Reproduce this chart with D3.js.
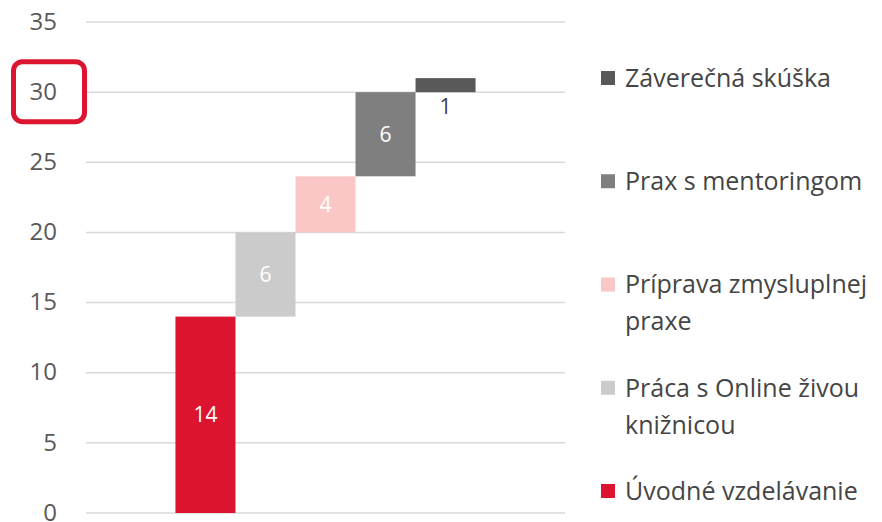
<!DOCTYPE html>
<html>
<head>
<meta charset="utf-8">
<script src="https://cdn.jsdelivr.net/npm/d3@7"></script>
<style>
  body { margin: 0; background: #fff; }
  text { font-family: "Open Sans", sans-serif; }
</style>
</head>
<body>
<div id="chart-area"></div>
<script>
// data
var categories = ["Úvodné vzdelávanie", "Práca s Online živou knižnicou", "Príprava zmysluplnej praxe", "Prax s mentoringom", "Záverečná skúška"];
var hours = [14, 6, 4, 6, 1];
var colors = ["#dc1430", "#cbcbcb", "#fbc6c6", "#7f7f7f", "#595959"];
var legendLines = [["Úvodné vzdelávanie"], ["Práca s Online živou", "knižnicou"], ["Príprava zmysluplnej", "praxe"], ["Prax s mentoringom"], ["Záverečná skúška"]];
var yTicks = [0, 5, 10, 15, 20, 25, 30, 35];

var width = 882;
var height = 522;

var svg = d3.select("#chart-area")
    .append("svg")
    .attr("width", width)
    .attr("height", height);

// stacking: each bar starts where the previous one ended
var starts = [0].concat(Array.from(d3.cumsum(hours)).slice(0, -1));
var data = categories.map(function (c, i) {
    return { name: c, value: hours[i], start: starts[i], color: colors[i], lines: legendLines[i] };
});

// SCALES
var x = d3.scaleBand()
    .domain(categories)
    .range([86, 565])
    .paddingInner(0)
    .paddingOuter(1.49);

var y = d3.scaleLinear()
    .domain([0, 35])
    .range([513, 22]);

// gridlines
svg.append("g").selectAll("line")
    .data(yTicks)
    .enter()
    .append("line")
    .attr("x1", 86)
    .attr("x2", 565)
    .attr("y1", function (d) { return y(d); })
    .attr("y2", function (d) { return y(d); })
    .attr("stroke", "#d9d9d9")
    .attr("stroke-width", 1.5);

// y axis labels
var yAxis = d3.axisLeft(y).tickValues(yTicks).tickSize(0).tickPadding(0);
var yAxisGroup = svg.append("g")
    .attr("transform", "translate(57, 0)")
    .call(yAxis);
yAxisGroup.select(".domain").remove();
yAxisGroup.selectAll("text")
    .attr("dy", "0.3em")
    .attr("font-size", "24px")
    .attr("font-family", "Open Sans, sans-serif")
    .attr("fill", "#595959");

// highlight box around 30
svg.append("rect")
    .attr("x", 13.5)
    .attr("y", y(30) - 30.5)
    .attr("width", 71)
    .attr("height", 60)
    .attr("rx", 9)
    .attr("fill", "none")
    .attr("stroke", "#dc1430")
    .attr("stroke-width", 5);

// BARS
svg.append("g").selectAll("rect")
    .data(data)
    .enter()
    .append("rect")
    .attr("x", function (d) { return x(d.name); })
    .attr("y", function (d) { return y(d.start + d.value); })
    .attr("width", x.bandwidth())
    .attr("height", function (d) { return y(d.start) - y(d.start + d.value); })
    .attr("fill", function (d) { return d.color; });

// bar labels
svg.append("g").selectAll("text")
    .data(data)
    .enter()
    .append("text")
    .attr("x", function (d) { return x(d.name) + x.bandwidth() / 2; })
    .attr("y", function (d) {
        if (d.value < 2) return y(d.start) + 15;
        return y(d.start + d.value / 2);
    })
    .attr("dy", "0.35em")
    .attr("text-anchor", "middle")
    .attr("font-size", "21px")
    .attr("fill", function (d) { return d.value < 2 ? "#3f3a4a" : "#fff"; })
    .text(function (d) { return d.value; });

// LEGEND (reverse order, last series on top)
var legendY = d3.scalePoint()
    .domain(categories.slice().reverse())
    .range([78, 491]);

var legend = svg.append("g").selectAll("g")
    .data(data)
    .enter()
    .append("g")
    .attr("transform", function (d) { return "translate(601, " + legendY(d.name) + ")"; });

legend.append("rect")
    .attr("x", 0)
    .attr("y", -7)
    .attr("width", 14)
    .attr("height", 14)
    .attr("fill", function (d) { return d.color; });

legend.append("text")
    .attr("font-size", "25px")
    .attr("fill", "#454545")
    .selectAll("tspan")
    .data(function (d) { return d.lines; })
    .enter()
    .append("tspan")
    .attr("x", 24)
    .attr("y", function (d, i) { return i * 37; })
    .attr("dy", "0.35em")
    .text(function (d) { return d; });
</script>
</body>
</html>
